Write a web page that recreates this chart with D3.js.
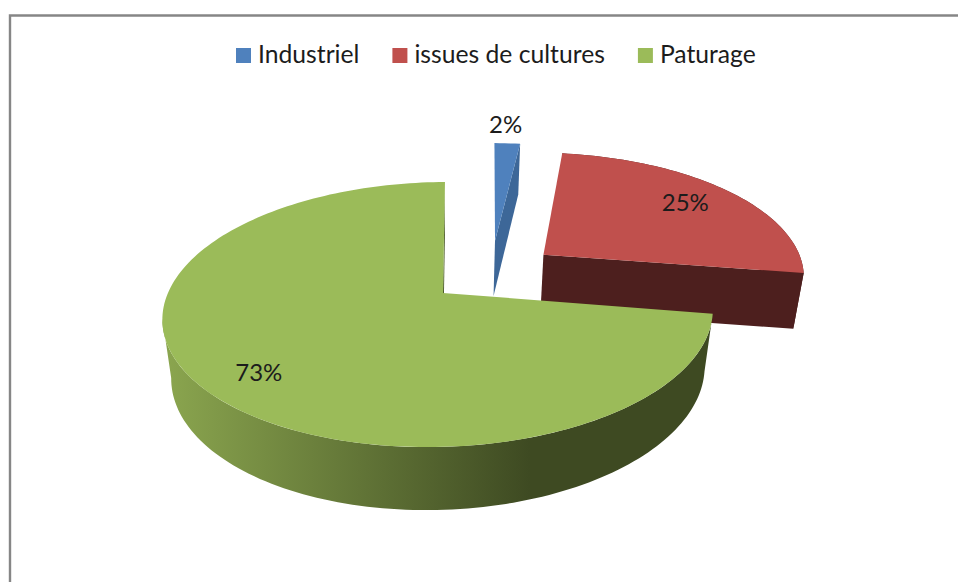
<!DOCTYPE html>
<html>
<head>
<meta charset="utf-8">
<style>
  body { margin: 0; background: #fff; }
  text { font-family: Lato, "Open Sans", sans-serif; fill: #1c1c1c; }
</style>
</head>
<body>
<svg id="chart"></svg>
<script src="https://cdn.jsdelivr.net/npm/d3@7"></script>
<script>
let categories = ["Industriel", "issues de cultures", "Paturage"]
let shares = [2, 25, 73]
let topColors = ["#4f81bd", "#c0504d", "#9bbb59"]
let cutColors = ["#3d6798", "#4d1f1e", "#4a5a28"]

let width = 958
let height = 582

// slice displacement on the pie plane, in radius units
let explodeX = [0.202, 0.388, 0]
let explodeZ = [0.43, 0.302, 0]
let rimScale = [1, 1.015, 1]
let labelRadius = [1.24, 0.795, 0.81]

// small angle corrections for the drawing distortion, in radians
let startShift = [0.02, 0.01, 0.06]
let endShift = [0.012, 0.05, 0]

// the wall stops where the rim turns away on the left, the closing edge is the silhouette
let wallLimit = 4.55

// plane -> screen projection, fitted on the picture
let originX = 443, originY = 293
let cam = {f: 271.5, h: 2.3, p: -3.5, g: 129, k: 0.162, m: 0.018, n: 0.031, depth: 59.5}

let project = (x, z, d) => {
    let w = 1 + cam.k * z + cam.m * x + cam.n * d
    return [
        originX + (cam.f * x + cam.h * z) / w,
        originY + (cam.p * x - cam.g * z + cam.depth * d) / w
    ]
}

let svg = d3.select("#chart").attr("width", width).attr("height", height)

let frame = () => {
    svg.append("path")
        .attr("d", "M10," + height + "V15.5H" + width)
        .attr("fill", "none")
        .attr("stroke", "#868686")
        .attr("stroke-width", 2.4)
}

let gradient = svg.append("defs").append("linearGradient")
    .attr("id", "wallGreen")
    .attr("gradientUnits", "userSpaceOnUse")
    .attr("x1", 163).attr("x2", 530).attr("y1", 0).attr("y2", 0)
gradient.append("stop").attr("offset", 0).attr("stop-color", "#8ba64f")
gradient.append("stop").attr("offset", 1).attr("stop-color", "#3e4a22")

let wallFill = ["none", "#4d1f1e", "url(#wallGreen)"]

let slices = d3.pie().sort(null).value(d => d)(shares)
let line = d3.line()

let rimPoint = (i, a, d) => project(
    explodeX[i] + rimScale[i] * Math.sin(a),
    explodeZ[i] + rimScale[i] * Math.cos(a),
    d
)

let arcPoints = (from, to, i, d) => {
    let steps = Math.max(4, Math.round((to - from) * 40))
    return d3.range(steps + 1).map(t => rimPoint(i, from + (to - from) * t / steps, d))
}

let drawSlice = (s, i) => {
    let from = s.startAngle + startShift[i]
    let to = s.endAngle + endShift[i]
    let apexTop = project(explodeX[i], explodeZ[i], 0)
    let apexBottom = project(explodeX[i], explodeZ[i], 1)

    // outer wall
    let wallEnd = Math.min(to, wallLimit)
    let wallTop = arcPoints(from, wallEnd, i, 0)
    let wallBottom = arcPoints(from, wallEnd, i, 1)
    svg.append("path")
        .attr("d", line(wallTop.concat(wallBottom.reverse())) + "Z")
        .attr("fill", wallFill[i])

    // cut face on the clockwise side
    svg.append("path")
        .attr("d", line([apexTop, rimPoint(i, to, 0), rimPoint(i, to, 1), apexBottom]) + "Z")
        .attr("fill", cutColors[i])

    // top face
    svg.append("path")
        .attr("d", line([apexTop].concat(arcPoints(from, to, i, 0))) + "Z")
        .attr("fill", topColors[i])
}

let drawLabels = () => {
    slices.forEach((s, i) => {
        let mid = (s.startAngle + s.endAngle) / 2
        let pos = project(
            explodeX[i] + labelRadius[i] * Math.sin(mid),
            explodeZ[i] + labelRadius[i] * Math.cos(mid),
            0
        )
        svg.append("text")
            .attr("x", pos[0]).attr("y", pos[1])
            .attr("text-anchor", "middle")
            .attr("dominant-baseline", "central")
            .attr("font-size", 24)
            .text(shares[i] + "%")
    })
}

let drawLegend = () => {
    let x = 236
    categories.forEach((name, i) => {
        svg.append("rect")
            .attr("x", x).attr("y", 48)
            .attr("width", 15).attr("height", 15)
            .attr("fill", topColors[i])
        let label = svg.append("text")
            .attr("x", x + 22).attr("y", 63)
            .attr("font-size", 24.7)
            .text(name)
        x += 22 + label.node().getComputedTextLength() + 33
    })
}

frame()
slices.forEach(drawSlice)
drawLabels()
drawLegend()
</script>
</body>
</html>
